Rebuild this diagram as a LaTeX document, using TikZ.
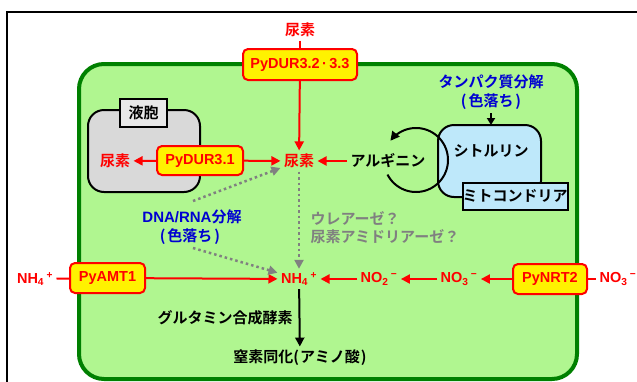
\documentclass[tikz,border=0pt]{standalone}
\usepackage{fontspec}
\setmainfont{Liberation Sans}
\newfontfamily\lat{Liberation Sans}
\newfontfamily\jp{Noto Sans CJK JP}[BoldFont={Noto Sans CJK JP Bold}]
\usetikzlibrary{arrows.meta}
\definecolor{gfill}{RGB}{176,246,144}
\definecolor{gline}{RGB}{0,128,0}
\definecolor{bfill}{RGB}{190,232,250}
\definecolor{vfill}{RGB}{217,217,217}
\definecolor{vlab}{RGB}{232,232,232}
\definecolor{tblue}{RGB}{0,0,210}
\definecolor{tgray}{RGB}{128,128,128}
\tikzset{
  latt/.style={font=\lat\bfseries\fontsize{14.5}{16}\selectfont},
  jpt/.style={font=\jp\bfseries\fontsize{15}{17}\selectfont},
  prot/.style={draw=red, fill=yellow, line width=2pt, rounded corners=5pt, text=red, latt, inner sep=0pt, minimum height=30pt},
  redlbl/.style={text=red, jpt},
  redchem/.style={text=red, latt},
  rarr/.style={draw=red, line width=2pt, -{Triangle[length=9pt,width=9pt]}},
  rline/.style={draw=red, line width=2pt},
  garr/.style={draw=tgray, line width=2.5pt, dash pattern=on 2.5pt off 3pt, -{Triangle[length=9pt,width=9pt]}},
  karr/.style={draw=black, line width=2pt, -{Triangle[length=9pt,width=9pt]}},
  blkbox/.style={draw=black, line width=2pt},
}
\begin{document}
\begin{tikzpicture}[x=1pt,y=-1pt]
\useasboundingbox (0,0) rectangle (637,381);
% outer frame
\draw[line width=1.3pt] (7,385) -- (7,12) -- (640,12);
% cell
\draw[draw=gline, fill=gfill, line width=4pt, rounded corners=25pt] (79,64) rectangle (577,379);
% top urea
\node[redlbl] (uTop) at (300,30) {尿素};
\node[prot, minimum width=114pt, minimum height=31pt] (dur32) at (300,64.5) {PyDUR3.2\,·\,3.3};
\draw[rline] (uTop) -- (dur32);
\node[redlbl] (uMid) at (299,161) {尿素};
\draw[rarr] (dur32) -- (uMid);
% vacuole
\draw[blkbox, fill=vfill, rounded corners=16pt] (88,110) rectangle (200,192);
\node[blkbox, fill=vlab, jpt, minimum width=47pt, minimum height=28pt, inner sep=0pt] (vac) at (143.5,113) {液胞};
\node[redlbl] (uVac) at (115,161) {尿素};
\node[prot, minimum width=86pt, minimum height=29pt] (dur31) at (200,160.5) {PyDUR3.1};
\draw[rarr] (dur31) -- (uVac);
\draw[rarr] (dur31) -- (uMid);
% mitochondria
\draw[blkbox, fill=bfill, rounded corners=16pt] (438,125) rectangle (541,197);
\node[jpt] (cit) at (491,151) {シトルリン};
\node[blkbox, fill=bfill, jpt, minimum width=100pt, minimum height=27pt, inner sep=0pt] (mito) at (515,196) {ミトコンドリア};
\node[jpt, text=tblue] (prot1) at (491,82) {タンパク質分解};
\node[jpt, text=tblue] (prot2) at (491,102) {(\hspace{2pt}色落ち\hspace{2pt})};
\coordinate (citTop) at (491,125);
\draw[draw=black, line width=2pt, -{Triangle[length=7pt,width=8pt]}] (prot2) -- (citTop);
% arginine cycle
\node[jpt] (arg) at (388,161) {アルギニン};
\draw[rarr] (arg) -- (uMid);
\draw[line width=2pt, -{Triangle[length=9pt,width=9pt]}] plot[domain=207:503, samples=80, smooth] ({416+32*cos(\x)},{160-32*sin(\x)});
% DNA/RNA
\node[jpt, text=tblue] (dna1) at (192,217) {{\lat\bfseries DNA/RNA}分解};
\node[jpt, text=tblue] (dna2) at (190,237) {(\hspace{2pt}色落ち\hspace{2pt})};
\coordinate (d1) at (193,201);
\coordinate (d2) at (193,248);
% gray enzymes
\node[jpt, text=tgray, anchor=west] (ure1) at (307,218) {ウレアーゼ？};
\node[jpt, text=tgray, anchor=west] (ure2) at (307,237) {尿素アミドリアーゼ？};
% ammonium row
\node[redchem] (nh4) at (299,279) {NH\textsubscript{4}\,\textsuperscript{+}};
\node[redchem] (nh4L) at (35,279) {NH\textsubscript{4}\,\textsuperscript{+}};
\node[prot, minimum width=75pt] (amt) at (107.5,278) {PyAMT1};
\draw[rline] (nh4L) -- (amt);
\draw[rarr] (amt) -- (nh4);
\node[prot, minimum width=74pt] (nrt) at (550,279) {PyNRT2};
\node[redchem, anchor=west] (no3R) at (596,279) {NO\textsubscript{3}\,\textsuperscript{−}};
\draw[rline] (nrt) -- (no3R);
\node[redchem] (no3) at (459,279) {NO\textsubscript{3}\,\textsuperscript{−}};
\node[redchem] (no2) at (379,279) {NO\textsubscript{2}\,\textsuperscript{−}};
\draw[rarr] (nrt) -- (no3);
\draw[rarr] (no3) -- (no2);
\draw[rarr] (no2) -- (nh4);
% dotted
\draw[garr] (uMid) -- (nh4);
\draw[garr] (d1) -- (uMid);
\draw[garr] (d2) -- (nh4);
% assimilation
\node[jpt] (gs) at (225,318) {グルタミン合成酵素};
\node[jpt] (aa) at (300,358) {窒素同化(\hspace{1pt}アミノ酸\hspace{1pt})};
\draw[karr] (nh4) -- (aa);
\end{tikzpicture}
\end{document}
